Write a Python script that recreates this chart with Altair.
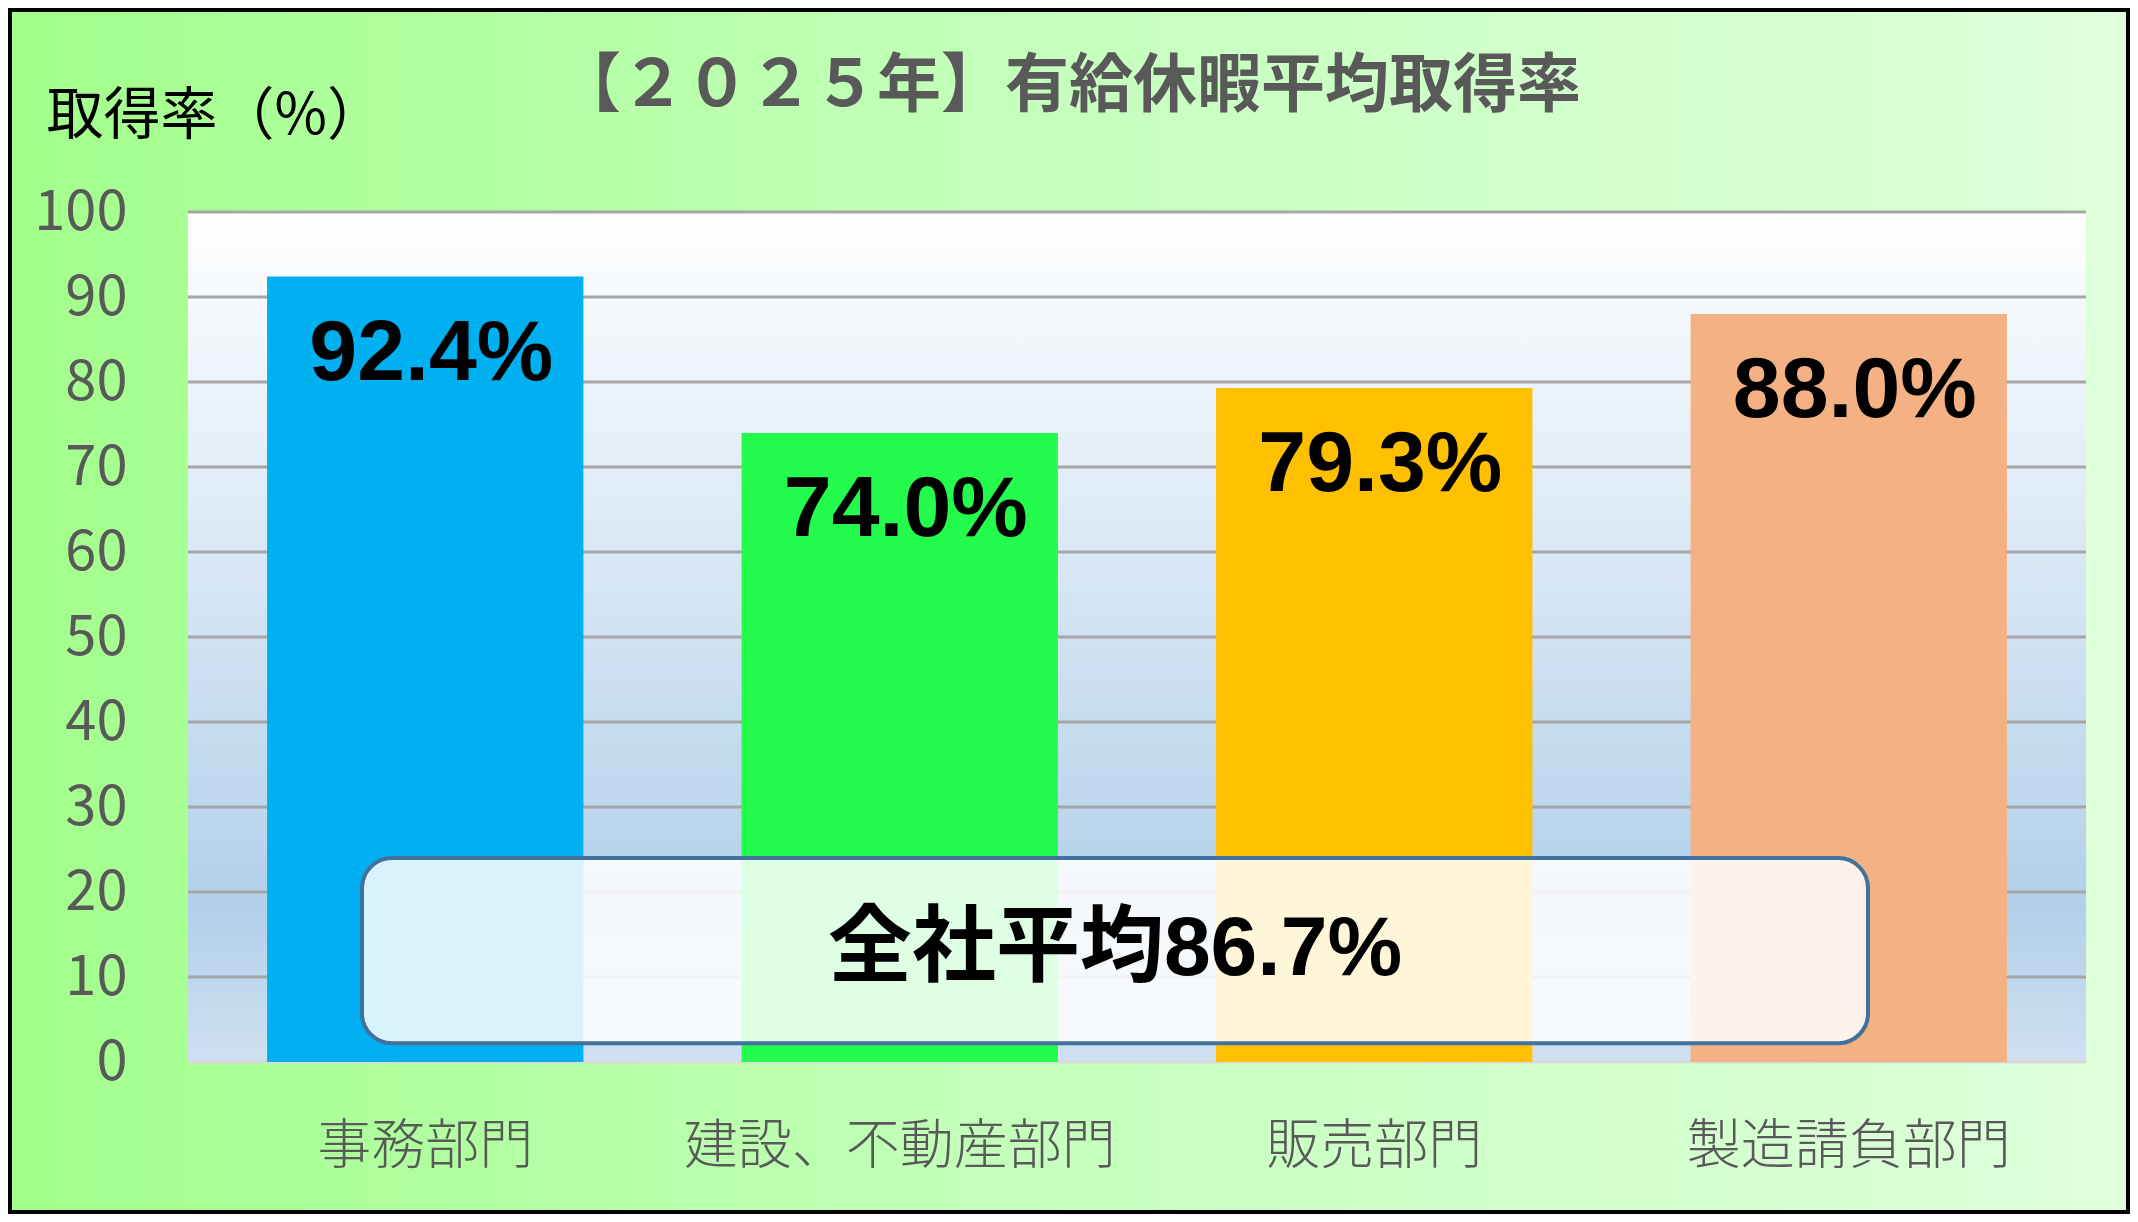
import altair as alt
import pandas as pd

# ---- data ----
categories = ["事務部門", "建設、不動産部門", "販売部門", "製造請負部門"]
rates = [92.4, 74.0, 79.3, 88.0]
bar_colors = ["#00B0F0", "#24FC4D", "#FFC000", "#F4B183"]
company_avg = 86.7
y_ticks = [0, 10, 20, 30, 40, 50, 60, 70, 80, 90, 100]
title_text = "【２０２５年】有給休暇平均取得率"
y_title = "取得率（%）"

df = pd.DataFrame({"dept": categories, "rate": rates})
grid_df = pd.DataFrame({"v": y_ticks})
avg_df = pd.DataFrame({"avg": [company_avg], "lo": [2.2], "hi": [24.0], "mid": [13.2]})

W, H = 1898, 850
PAD = {"left": 180, "top": 204, "right": 44, "bottom": 152}

JP = "Noto Sans CJK JP"
BOLD_MIX = "Liberation Sans, Noto Sans CJK JP"

x_enc = alt.X("dept:N", sort=categories,
              scale=alt.Scale(paddingInner=1/3, paddingOuter=1/6),
              axis=alt.Axis(title=None, labelAngle=0, ticks=False, domain=False, grid=False,
                            labelFont=JP, labelFontSize=54, labelFontWeight=300, labelLimit=0,
                            labelColor="#595959", labelPadding=58, zindex=1))
y_scale = alt.Scale(domain=[0, 100], nice=False)
y_enc = alt.Y("rate:Q", scale=y_scale,
              axis=alt.Axis(values=y_ticks, grid=False, domain=False, ticks=False,
                            labelFont=JP, labelFontSize=56, labelColor="#595959",
                            labelPadding=61, zindex=1,
                            title=y_title, titleAngle=0, titleAlign="left",
                            titleBaseline="middle", titleX=-142, titleY=-96,
                            titleFont=JP, titleFontSize=57, titleFontWeight="normal",
                            titleColor="#000000"))

one = alt.Data(values=[{}])

bg = alt.Chart(one).mark_rect(
    fill=alt.Gradient(gradient="linear", x1=0, y1=0, x2=1, y2=0,
                      stops=[alt.GradientStop(offset=0, color="#A2FF8B"),
                             alt.GradientStop(offset=0.5, color="#C6FFBE"),
                             alt.GradientStop(offset=1, color="#DEFFDA")]),
    stroke="#000000", strokeWidth=4
).encode(x=alt.value(-PAD["left"] + 2), x2=alt.value(W + PAD["right"] - 2),
         y=alt.value(-PAD["top"] + 2), y2=alt.value(H + PAD["bottom"] - 2))

plot_bg = alt.Chart(one).mark_rect(
    fill=alt.Gradient(gradient="linear", x1=0, y1=0, x2=0, y2=1,
                      stops=[alt.GradientStop(offset=0, color="#FFFFFF"),
                             alt.GradientStop(offset=0.82, color="#B2D0EA"),
                             alt.GradientStop(offset=1, color="#CFE0F1")])
).encode(x=alt.value(0), x2=alt.value("width"), y=alt.value(0), y2=alt.value("height"))

grid = alt.Chart(grid_df).mark_rule(strokeWidth=3).encode(
    y=alt.Y("v:Q", scale=y_scale),
    color=alt.condition("datum.v == 0", alt.value("#D9D9D9"), alt.value("#A6A6A6")),
)

bars = alt.Chart(df).mark_bar().encode(
    x=x_enc, y=y_enc,
    color=alt.Color("dept:N", scale=alt.Scale(domain=categories, range=bar_colors), legend=None),
)

labels = alt.Chart(df).transform_calculate(
    label="format(datum.rate, '.1f') + '%'"
).mark_text(font=BOLD_MIX, fontSize=86, fontWeight="bold", color="#000000",
            baseline="alphabetic", dy=103, dx=6).encode(
    x=alt.X("dept:N", sort=categories), y=alt.Y("rate:Q", scale=y_scale), text="label:N")

box = alt.Chart(avg_df).mark_rect(
    fill="#FFFFFF", fillOpacity=0.85, stroke="#41719C", strokeWidth=4, cornerRadius=30
).encode(x=alt.value(174), x2=alt.value(1680),
         y=alt.Y("hi:Q", scale=y_scale), y2="lo:Q")

box_text = alt.Chart(avg_df).transform_calculate(
    label="'全社平均' + format(datum.avg, '.1f') + '%'"
).mark_text(font=BOLD_MIX, fontSize=84, fontWeight="bold", color="#000000",
            baseline="middle", align="center").encode(
    x=alt.value(927), y=alt.Y("mid:Q", scale=y_scale), text="label:N")

chart = alt.layer(bg, plot_bg, grid, bars, labels, box, box_text).properties(
    width=W, height=H,
    autosize=alt.AutoSizeParams(type="none"),
    padding=PAD,
    background="#FFFFFF",
    title=alt.TitleParams(title_text, font=JP, fontSize=64, fontWeight="bold",
                          color="#595959", anchor="middle", dx=-68, offset=20, dy=131),
).configure_view(stroke=None)

chart.save("out.html", embed_options={"renderer": "svg", "actions": False})
